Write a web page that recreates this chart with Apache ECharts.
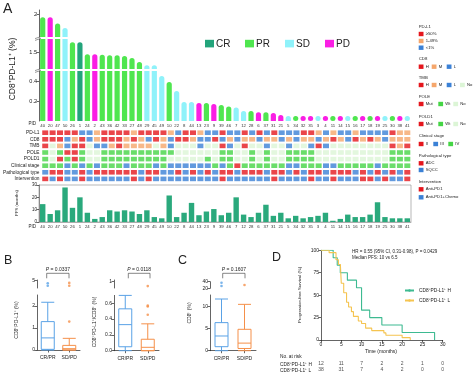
<!DOCTYPE html>
<html><head><meta charset="utf-8">
<script src="https://cdn.jsdelivr.net/npm/echarts@6/dist/echarts.min.js"></script>
<style>html,body{margin:0;padding:0;background:#fff}#c{width:474px;height:373px}</style>
</head><body><div id="c"></div>
<script>
// ---------- DATA ----------
const pids = [40,20,47,50,26,1,24,2,43,36,42,33,27,48,29,45,49,10,22,8,44,13,23,9,39,46,7,12,28,6,37,31,21,5,34,32,35,3,4,11,14,15,16,17,18,19,25,30,38,41];
const response = ['PR','PD','PR','SD','PR','CR','PR','PD','PR','PR','PR','PR','PR','PR','SD','SD','SD','PR','SD','SD','SD','PD','PR','PD','PR','PR','SD','SD','PR','PD','PR','PD','PD','SD','PR','PD','PD','SD','PD','PR','PD','SD','PR','PD','PR','PD','SD','PR','PD','SD'];
const cd8pdl1 = [1.97,1.97,1.90,1.85,1.69,1.69,1.47,1.47,1.46,1.45,1.45,1.44,1.40,1.33,1.27,1.27,0.45,0.39,0.30,0.19,0.19,0.18,0.18,0.17,0.16,0.145,0.135,0.10,0.10,0.087,0.087,0.08,0.06,0.037,0.01,0.01,0.01,0.008,0.008,0.008,0.006,0.006,0.006,0.005,0.005,0.005,0.004,0.004,0.003,0.003];
const pfs = [14.5,6.5,9.5,28,11.5,20,7.5,2.5,4,9.5,8.5,9.5,8.5,6.5,9.5,4,3,21.5,4,7.5,15.5,5.5,8.5,10.5,5.5,7.5,20,6,4,7.5,14,5,7.5,3,5,3,4,5,7.5,1,2.5,6,4,4,6,16,4,3,3,3];
const pdl1   = 'H H H H H L L M H H H H M H H H H M L H H M L L H L L H L H L H L L L H H M L M L L M L L L L H M M'.split(' ');
const cd8    = 'H H H L M H L M H H H M H M L H M L H H M L L H L M L M M L M M L M L M M L M H M L H M H M L M M M'.split(' ');
const tmb    = 'H N M L H H N L L M H M M M M N M L N N N L N N H L N H N N L N N L N N L H L N N N N N N N N H M H'.split(' ');
const pole   = 'W N W M M W N N W W W W W W W W W W N N N N N N W W N N W N W N N W W W W N N N N N N N N N N W W W'.split(' ');
const pold1  = 'W N M W M W N N W W W W W W W W W N N N N N W N W W N N W N W N N W W W W N N N N N N N N N N W W W'.split(' ');
const stage  = '4 4 4 3 4 3 4 3 4 4 4 3 4 4 4 3 4 3 3 3 3 3 3 4 3 4 2 4 4 4 4 4 4 3 3 4 4 4 3 3 4 4 4 4 4 3 4 4 4 4'.split(' ');
const path   = 'S A A S S A S A A A A A A S A A S S A S A S A S A A S A A A S A A S A S A A S A A A S A S A S A S A'.split(' ');
const interv = 'P C P C C P C C C C C C P C P C C C C C C C C C P C C C C C C P C C C C P C C P C C C P P C P C C P'.split(' ');
const rowNames = ['PD-L1','CD8','TMB','POLE','POLD1','Clinical stage','Pathological type','Intervention'];
const groups = ['CR/PR','SD/PD'];
const boxB1 = [[0,0.03,0.55,1.29,2.17],[0,0,0.06,0.21,0.53]];
const outB1low = [[1,1.29]];
const outB1top = [[0,4.65],[0,4.3],[1,4.7],[1,4.3]];
const boxB2 = [[0,0.05,0.33,0.53,0.70],[0,0,0.043,0.145,0.34]];
const outB2low = [[1,0.455],[1,0.57],[1,0.56]];
const outB2top = [[1,0.86]];
const boxC = [[0,0.9,3.3,6.3,11.6],[0,0.5,1.7,4.8,10.4]];
const outCtop = [[0,37],[0,27],[1,30]];
const kmH = [[0,100],[3,91.7],[4,83.3],[4.75,75],[6.5,66.7],[8.75,58.3],[10,33.3],[12,25],[15,16.7],[20,8.3],[28,0]];
const kmL = [[0,100],[2,97.4],[3.7,89.5],[4.3,84.2],[4.8,81.6],[5,63.2],[5.6,52.6],[6.3,42.1],[6.8,36.8],[7.5,31.6],[8,26.3],[9.2,21.1],[10,18.4],[11,13.2],[12.5,10.5],[15.5,7.9],[16,5.3],[20,2.6],[22,0]];
const riskTimes = [0,5,10,15,20,25,30];
const riskH = [12,11,7,2,2,1,0];
const riskL = [38,31,7,4,2,0,0];
const pValues = ['0.0337','0.0118','0.1607'];

// ---------- STYLE ----------
const FONT = 'Liberation Sans, Arial, sans-serif';
const RC = {CR:'#23a47b', PR:'#4fe64f', SD:'#8ff2fa', PD:'#fa1ee4'};
const RED='#e5161d', ORG='#f5a66b', BLU='#3b81d6', GRN='#45d545', LGR='#dcf5d6';
const BXB='#5aa2e6', BXO='#f5904a', KMG='#3dba91', KMO='#f5c450';
const rowColors = [{H:RED,M:ORG,L:BLU},{H:RED,M:ORG,L:BLU},{H:RED,M:ORG,L:BLU,N:LGR},{M:RED,W:GRN,N:LGR},{M:RED,W:GRN,N:LGR},{'2':RED,'3':BLU,'4':GRN},{A:RED,S:BLU},{P:RED,C:BLU}];
const rowVals = [pdl1,cd8,tmb,pole,pold1,stage,path,interv];

const chart = echarts.init(document.getElementById('c'), null, {renderer:'canvas'});
const lab = (o) => Object.assign({fontSize:5, fontFamily:FONT, color:'#222', margin:2}, o||{});
const axl = {show:true, lineStyle:{color:'#222', width:0.7}};
const tick = (o) => Object.assign({show:true, length:2.5, lineStyle:{color:'#222', width:0.7}}, o||{});

const grids = [
  {left:39, top:10, width:372, height:27},      //0 A top
  {left:39, top:39, width:372, height:30},      //1 A mid
  {left:39, top:71, width:372, height:50},      //2 A bottom
  {left:39, top:129.4, width:372, height:52.8}, //3 heatmap
  {left:39, top:185, width:372, height:37, show:true, borderColor:'#999', borderWidth:0.7}, //4 PFS
  {left:37, top:280, width:43, height:8},       //5 B1 top
  {left:37, top:295, width:43, height:55},      //6 B1 low
  {left:114, top:280, width:45, height:8},      //7 B2 top
  {left:114, top:295.4, width:45, height:55.3}, //8 B2 low
  {left:210, top:281.7, width:46, height:6.6},  //9 C top
  {left:210, top:295, width:46, height:55.7},   //10 C low
  {left:321, top:250.3, width:121.7, height:89.7}, //11 KM
  {left:321, top:361, width:121.7, height:12}   //12 risk table
];
const hidCat = (d) => ({type:'category', data:d, show:false});
const boxX = (gi) => ({type:'category', gridIndex:gi, data:groups, offset:2, axisLine:axl, axisTick:tick({alignWithLabel:true}), axisLabel:lab({margin:3, interval:0})});
const xAxis = [
  Object.assign(hidCat(pids),{gridIndex:0}),
  Object.assign(hidCat(pids),{gridIndex:1}),
  {type:'category', gridIndex:2, data:pids, axisLine:{show:false}, axisTick:{show:false}, axisLabel:lab({fontSize:4.3, interval:0, margin:2.5, color:'#333'})},
  Object.assign(hidCat(pids),{gridIndex:3}),
  {type:'category', gridIndex:4, data:pids, axisLine:{show:true, lineStyle:{color:'#999', width:0.7}}, axisTick:{show:false}, axisLabel:lab({fontSize:4.3, interval:0, margin:3, color:'#333'})},
  Object.assign(hidCat(groups),{gridIndex:5}),
  boxX(6),
  Object.assign(hidCat(groups),{gridIndex:7}),
  boxX(8),
  Object.assign(hidCat(groups),{gridIndex:9}),
  boxX(10),
  {type:'value', gridIndex:11, min:0, max:30, interval:5, axisLine:axl, axisTick:tick(), splitLine:{show:false}, axisLabel:lab()},
  {type:'value', gridIndex:12, min:0, max:30, show:false}
];
const segY = (gi, min, max, vals, fmt, fs) => ({type:'value', gridIndex:gi, min, max, splitLine:{show:false},
  axisLine:axl, axisTick:tick({customValues:vals}), axisLabel:lab({customValues:vals, fontSize:fs||5, formatter:fmt||(v=>String(v))})});
const yAxis = [
  segY(0, 1.75, 2.05, [2], null, 5.5),
  segY(1, 1.2, 1.75, [1.5], v=>'1.5', 5.5),
  segY(2, 0, 0.5, [0.2,0.4], v=>v.toFixed(1), 5.5),
  {type:'category', gridIndex:3, data:rowNames, inverse:true, axisLine:{show:false}, axisTick:{show:false}, axisLabel:lab({fontSize:4.8, margin:2, interval:0})},
  {type:'value', gridIndex:4, min:0, max:30, interval:10, splitLine:{show:false}, axisLine:{show:true, lineStyle:{color:'#666', width:0.7}}, axisTick:tick(), axisLabel:lab({fontSize:4.5})},
  segY(5, 4, 5.1, [5]),
  segY(6, 0, 2.5, [0,1,2]),
  segY(7, 0.8, 1.05, [1]),
  segY(8, 0, 0.7, [0,0.2,0.4,0.6], v=>v.toFixed(1)),
  segY(9, 20, 40, [20,40]),
  segY(10, 0, 12.5, [0,5,10]),
  {type:'value', gridIndex:11, min:0, max:100, interval:25, splitLine:{show:false}, axisLine:axl, axisTick:tick(), axisLabel:lab()},
  {type:'category', gridIndex:12, data:['H','L'], inverse:true, show:false}
];

function barSeries(gi, min, max, minH){
  return {type:'bar', xAxisIndex:gi, yAxisIndex:gi, barWidth:5.2, clip:true, silent:true, barMinHeight:minH||0,
    data: cd8pdl1.map((v,i)=>({value:v, itemStyle:{color:RC[response[i]],
      borderRadius: v<0.02 ? 2.6 : (v<=max ? [2.6,2.6,0,0] : 0)}}))};
}
const heatData = [];
rowVals.forEach((arr,r)=>arr.forEach((code,c)=>heatData.push({value:[c,r], itemStyle:{color:rowColors[r][code]}})));

function boxSeries(gi, data){
  return {type:'boxplot', xAxisIndex:gi, yAxisIndex:gi, boxWidth:[13,13], silent:true,
    data: data.map((d,i)=>({value:d, itemStyle:{color:'#fff', borderColor:i===0?BXB:BXO, borderWidth:1}}))};
}
function outSeries(gi, data){
  return {type:'scatter', xAxisIndex:gi, yAxisIndex:gi, symbolSize:2.6, silent:true, clip:false,
    data: data.map(d=>({value:d, itemStyle:{color:d[0]===0?BXB:BXO}}))};
}
const riskData = [];
riskTimes.forEach((t,k)=>{ riskData.push([t,0,riskH[k]]); riskData.push([t,1,riskL[k]]); });

const series = [
  barSeries(0, 1.75, 2.05), barSeries(1, 1.2, 1.75), barSeries(2, 0, 0.5, 5),
  {type:'scatter', xAxisIndex:3, yAxisIndex:3, symbol:'rect', symbolSize:[6,4.6], silent:true, data:heatData},
  {type:'bar', xAxisIndex:4, yAxisIndex:4, barWidth:5.4, silent:true, itemStyle:{color:'#2aa97c'}, data:pfs},
  boxSeries(6, boxB1), outSeries(6, outB1low), outSeries(5, outB1top),
  boxSeries(8, boxB2), outSeries(8, outB2low), outSeries(7, outB2top),
  boxSeries(10, boxC), outSeries(9, outCtop),
  {name:'CD8⁺PD-L1⁺ H', type:'line', xAxisIndex:11, yAxisIndex:11, step:'end', symbol:'none', silent:true, lineStyle:{color:KMG, width:1.1}, itemStyle:{color:KMG}, data:kmH},
  {name:'CD8⁺PD-L1⁺ L', type:'line', xAxisIndex:11, yAxisIndex:11, step:'end', symbol:'none', silent:true, lineStyle:{color:KMO, width:1.1}, itemStyle:{color:KMO}, data:kmL},
  {type:'scatter', xAxisIndex:12, yAxisIndex:12, symbolSize:0, silent:true, data:riskData,
    label:{show:true, position:'inside', fontSize:5, fontFamily:FONT, color:'#222', formatter:p=>String(p.value[2])}}
];

// ---------- GRAPHIC (text/annotations) ----------
const G = [];
function txt(x,y,t,o){ o=o||{}; G.push({type:'text', x, y, rotation:o.rot||0, silent:true, style:{text:t, fontSize:o.fs||5, fontFamily:FONT, fill:o.color||'#222', align:o.align||'left', verticalAlign:'middle', fontWeight:o.weight||'normal', rich:o.rich}}); }
function rect(x,y,w,h,c){ G.push({type:'rect', silent:true, shape:{x,y,width:w,height:h}, style:{fill:c}}); }
function pl(pts,c,w){ G.push({type:'polyline', silent:true, shape:{points:pts}, style:{stroke:c||'#222', lineWidth:w||0.7, fill:null}}); }

txt(3,9,'A',{fs:14}); txt(4,261,'B',{fs:12.5}); txt(178,261,'C',{fs:12.5}); txt(272,258,'D',{fs:12.5});
txt(13,69,'CD8⁺PD-L1⁺ (%)',{fs:8.5, rot:Math.PI/2, align:'center'});
txt(36,123.5,'PID',{fs:4.5, align:'right'});
txt(36,226.8,'PID',{fs:4.5, align:'right'});
txt(17,203,'PFS (months)',{fs:4.2, rot:Math.PI/2, align:'center'});
// axis break marks
pl([[35,38.6],[41,36.6]],'#555',0.6); pl([[35,40.4],[41,38.4]],'#555',0.6);
pl([[35,70.6],[41,68.6]],'#555',0.6); pl([[35,72.4],[41,70.4]],'#555',0.6);
// main legend
['CR','PR','SD','PD'].forEach((k,i)=>{ const x=205+i*40; rect(x,39.8,9,7.6,RC[k]); txt(x+11,43.8,k,{fs:10}); });
// side legend
const sx=418.7;
function legRow(y, items, xs){ items.forEach((it,k)=>{ rect(xs[k], y-2.2, 4.8, 4.4, it[1]); txt(xs[k]+7, y, it[0], {fs:4.2}); }); }
txt(sx,27.3,'PD-L1',{fs:4.3}); legRow(34,[['≥50%',RED]],[sx]); legRow(41,[['1-49%',ORG]],[sx]); legRow(47.7,[['<1%',BLU]],[sx]);
txt(sx,59.3,'CD8',{fs:4.3}); legRow(66.7,[['H',RED],['M',ORG],['L',BLU]],[sx,431.7,446.7]);
txt(sx,77.7,'TMB',{fs:4.3}); legRow(85,[['H',RED],['M',ORG],['L',BLU],['No',LGR]],[sx,431.7,446.7,460]);
txt(sx,96.7,'POLE',{fs:4.3}); legRow(104,[['Mut',RED],['Wt',GRN],['No',LGR]],[sx,438.3,453.3]);
txt(sx,116.7,'POLD1',{fs:4.3}); legRow(124,[['Mut',RED],['Wt',GRN],['No',LGR]],[sx,438.3,453.3]);
txt(sx,136,'Clinical stage',{fs:4.3}); legRow(144,[['II',RED],['III',BLU],['IV',GRN]],[sx,433.3,448.3]);
txt(sx,155.7,'Pathological type',{fs:4.3}); legRow(163.3,[['ADC',RED]],[sx]); legRow(170,[['SQCC',BLU]],[sx]);
txt(sx,182,'Intervention',{fs:4.3}); legRow(189.3,[['Anti-PD1',RED]],[sx]); legRow(197.3,[['Anti-PD1+Chemo',BLU]],[sx]);
// box plot titles
txt(17,320,'CD8⁺PD-L1⁺ (%)',{fs:5, rot:Math.PI/2, align:'center'});
txt(95,322,'CD8⁺PD-L1⁺/CD8⁺ (%)',{fs:5, rot:Math.PI/2, align:'center'});
txt(190,313,'CD8⁺ (%)',{fs:5, rot:Math.PI/2, align:'center'});
// p-value brackets
const rich = {i:{fontStyle:'italic', fontSize:5, fontFamily:FONT, fill:'#222'}, n:{fontSize:5, fontFamily:FONT, fill:'#222'}};
[[46.7,69],[128.3,150],[222.7,245]].forEach((b,i)=>{
  pl([[b[0],278.3],[b[0],273.3],[b[1],273.3],[b[1],278.3]],'#333',0.6);
  txt((b[0]+b[1])/2,269.3,'{i|P}{n| = '+pValues[i]+'}',{align:'center', rich});
});
// KM annotations
txt(352,251.7,'HR = 0.55 (95% CI, 0.31-0.98), P = 0.0429',{fs:4.5});
txt(352,257.5,'Median PFS: 10 vs 6.5',{fs:4.5});
txt(300,295,'Progression-free Survival (%)',{fs:4.3, rot:Math.PI/2, align:'center'});
txt(381,352,'Time (months)',{fs:5, align:'center'});
txt(280,356.5,'No. at risk',{fs:4.8});
txt(280,364.2,'CD8⁺PD-L1⁺ H',{fs:4.8});
txt(280,370.2,'CD8⁺PD-L1⁺ L',{fs:4.8});

chart.setOption({
  animation:false,
  backgroundColor:'#fff',
  textStyle:{fontFamily:FONT},
  grid:grids, xAxis, yAxis, series,
  legend:{data:['CD8⁺PD-L1⁺ H','CD8⁺PD-L1⁺ L'], left:399, top:283, orient:'vertical', itemWidth:9, itemHeight:3, itemGap:5, selectedMode:false,
    textStyle:{fontSize:4.8, fontFamily:FONT, color:'#222'}},
  graphic:G
});
</script></body></html>
